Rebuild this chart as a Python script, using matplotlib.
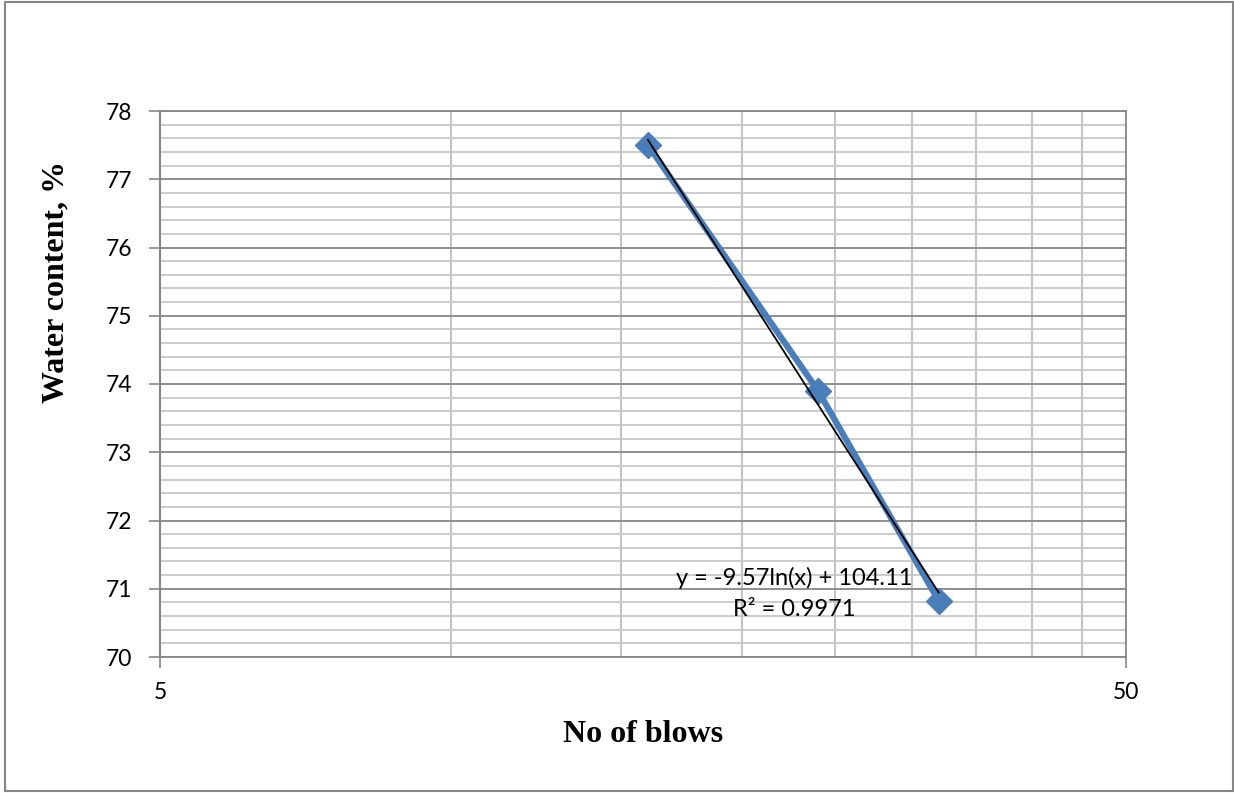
import numpy as np
import matplotlib
matplotlib.use("Agg")
import matplotlib.pyplot as plt
from matplotlib.ticker import FixedLocator, NullFormatter, FixedFormatter
from matplotlib.patches import Rectangle

# Data
blows = [16, 24, 32]
water_content = [77.5, 73.9, 70.82]
trend_coef = [-9.57, 104.11]   # y = a*ln(x) + b
equation_text = "y = -9.57ln(x) + 104.11"
r2_text = "R² = 0.9971"
x_ticks = [5, 50]
x_tick_labels = ["5", "50"]
x_minor = [10, 15, 20, 25, 30, 35, 40, 45]
y_ticks = [70, 71, 72, 73, 74, 75, 76, 77, 78]

W, H = 1234, 793
fig = plt.figure(figsize=(W / 100, H / 100), dpi=100)
fig.patch.set_facecolor("white")

# outer border
fig.patches.append(Rectangle((5 / W, 2 / H), (1233 - 5) / W, (791 - 2) / H,
                             transform=fig.transFigure, fill=False,
                             edgecolor="#868686", linewidth=1.5))

L, R, T, B = 160, 1126, 111, 657
ax = fig.add_axes([L / W, 1 - B / H, (R - L) / W, (B - T) / H])
ax.set_xscale("log")
ax.set_xlim(5, 50)
ax.set_ylim(70, 78)

tick_font = "Lato"
ax.xaxis.set_major_locator(FixedLocator(x_ticks))
ax.xaxis.set_major_formatter(FixedFormatter(x_tick_labels))
ax.xaxis.set_minor_locator(FixedLocator(x_minor))
ax.xaxis.set_minor_formatter(NullFormatter())
ax.set_yticks(y_ticks)
ax.set_yticklabels([str(v) for v in y_ticks])
ax.yaxis.set_minor_locator(FixedLocator([v for v in np.arange(70, 78.01, 0.2)]))

ax.tick_params(axis="both", which="major", direction="out", length=8,
               width=1.2, color="#868686", labelsize=16.5, pad=12)
ax.tick_params(axis="x", which="major", pad=10)
ax.tick_params(axis="both", which="minor", length=0)
for lab in ax.get_xticklabels() + ax.get_yticklabels():
    lab.set_fontfamily(tick_font)

ax.set_axisbelow(True)
ax.grid(which="major", axis="y", color="#868686", linewidth=1.3)
ax.grid(which="minor", axis="y", color="#c4c4c4", linewidth=1.2)
ax.grid(which="minor", axis="x", color="#c4c4c4", linewidth=1.5)

for s in ax.spines.values():
    s.set_color("#868686")
    s.set_linewidth(1.3)
ax.spines["left"].set_linewidth(1.5)

# series
ax.plot(blows, water_content, color="#4a7ebb", linewidth=4.5, marker="D",
        markersize=13, markerfacecolor="#4a7ebb", markeredgecolor="#4a7ebb",
        zorder=3)

# trendline
xt = np.geomspace(min(blows), max(blows), 100)
yt = trend_coef[0] * np.log(xt) + trend_coef[1]
ax.plot(xt, yt, color="black", linewidth=1.3, zorder=4)

ax.text(0.657, 0.1447, equation_text, transform=ax.transAxes, ha="center",
        va="center", fontsize=17, fontfamily=tick_font, zorder=5)
ax.text(0.657, 0.0861, r2_text, transform=ax.transAxes, ha="center",
        va="center", fontsize=17, fontfamily=tick_font, zorder=5)

fig.text(643 / W, 1 - 734 / H, "No of blows", ha="center", va="center",
         fontsize=23, fontweight="bold", fontfamily="Liberation Serif")
fig.text(56 / W, 1 - 282 / H, "Water content, %", ha="center", va="center",
         rotation=90, fontsize=23, fontweight="bold",
         fontfamily="Liberation Serif")

fig.savefig("out.png", dpi=100, facecolor="white")
